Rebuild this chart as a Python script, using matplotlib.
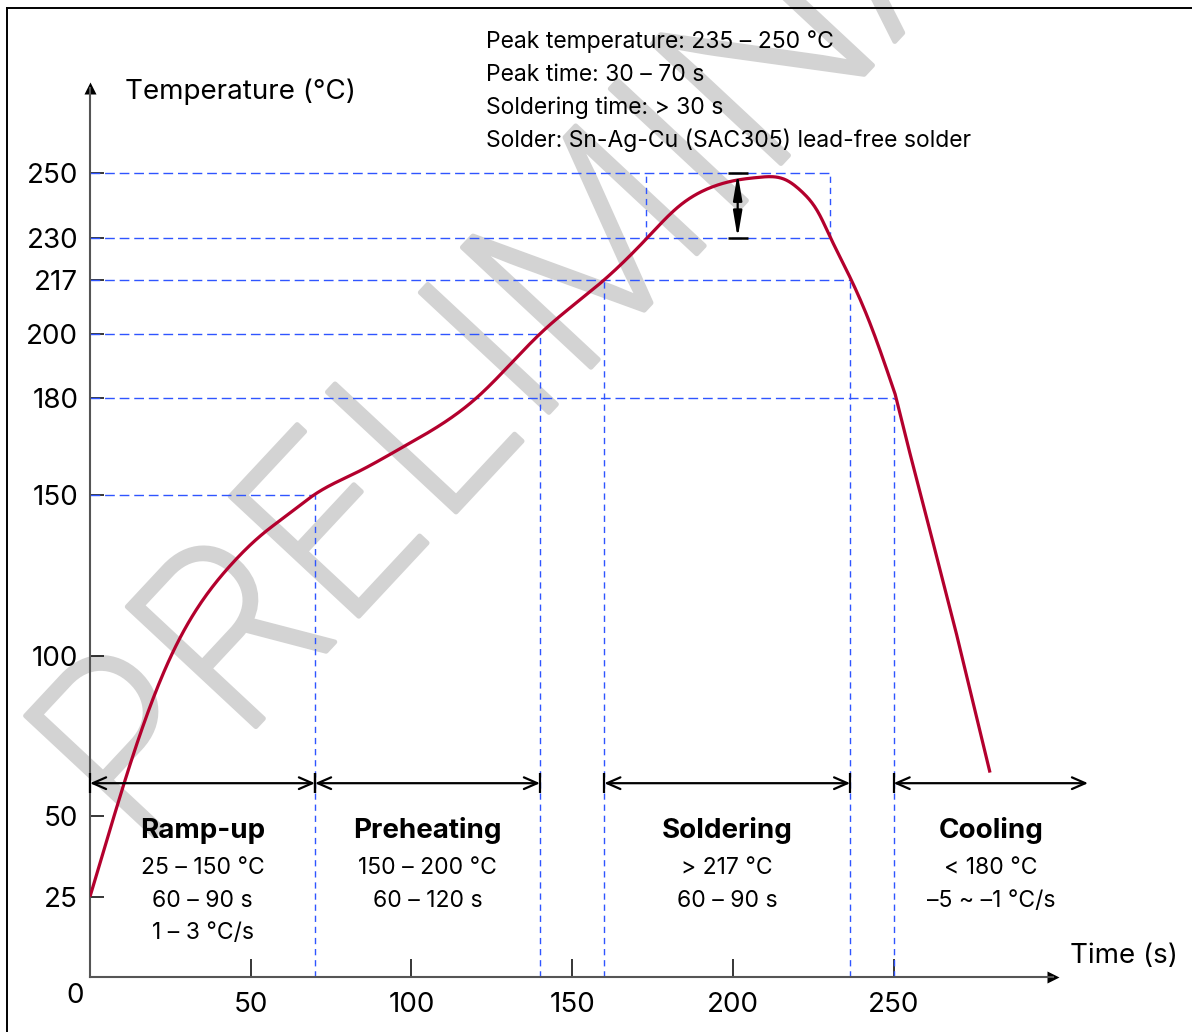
import numpy as np
import matplotlib
matplotlib.use("Agg")
import matplotlib.pyplot as plt
from matplotlib.lines import Line2D
from matplotlib.patches import ArrowStyle
from matplotlib.textpath import TextPath, TextToPath
from matplotlib.font_manager import FontProperties
import matplotlib.patheffects as pe

plt.rcParams['font.family'] = ['Inter', 'DejaVu Sans']

# ---------------- data ----------------
time_s = [0, 6.2, 10.9, 17.6, 24.9, 32.4, 43.0, 53.9, 62.0, 70.0, 83.0, 96.5, 120.6,
          140.2, 160.3, 173.4, 183.1, 193.8, 201.6, 208.1, 216.5, 221.5, 226.5, 230.3,
          236.4, 242.7, 250.5, 255.1, 262.4, 269.6, 280.0]
temp_c = [25, 45.8, 61.2, 81.2, 99.2, 113.2, 127.3, 138.0, 144.2, 150.2, 157.0, 164.4, 180.5,
          200.3, 217.2, 230.0, 239.7, 245.9, 248.0, 248.8, 248.0, 244.3, 238.0, 230.2,
          217.8, 203.3, 181.3, 162.9, 134.7, 106.6, 63.6]
cooling_start = 250.5   # the curve bends here into the straight cooling ramp

x_ticks = [50, 100, 150, 200, 250]
y_ticks = [25, 50, 100, 150, 180, 200, 217, 230, 250]

# horizontal guides: (temperature, t_end)
h_guides = [(250, 230.2), (230, 230.2), (217, 236.5), (200, 140), (180, 250), (150, 70)]
# vertical guides: (time, t_top, t_bottom)
v_guides = [(70, 150, 0), (140, 200, 0), (160, 217, 0), (236.5, 217, 0), (250, 180, 0),
            (173, 250, 230), (230.2, 250, 230)]

phase_names = ["Ramp-up", "Preheating", "Soldering", "Cooling"]
phase_start = [0, 70, 160, 250]
phase_end = [70, 140, 236.5, 310.5]
phase_lines = [["25 – 150 °C", "60 – 90 s", "1 – 3 °C/s"],
               ["150 – 200 °C", "60 – 120 s"],
               ["> 217 °C", "60 – 90 s"],
               ["< 180 °C", "–5 ~ –1 °C/s"]]
phase_arrow_temp = 60.3

peak_time = 201.5
peak_range = (230, 250)

notes = ["Peak temperature: 235 – 250 °C",
         "Peak time: 30 – 70 s",
         "Soldering time: > 30 s",
         "Solder: Sn-Ag-Cu (SAC305) lead-free solder"]

watermark = "PRELIMINARY"

# ---------------- figure ----------------
W, H = 1192, 1032
fig = plt.figure(figsize=(W / 100, H / 100), dpi=100)
ox, oy = 90, 977          # origin pixel
xend, ytop = 1053, 88
ax = fig.add_axes([ox / W, (H - oy) / H, (xend - ox) / W, (oy - ytop) / H])
ax.set_xlim(0, 299.6)
ax.set_ylim(0, 276.6)
ax.patch.set_alpha(0)

for s in ['top', 'right']:
    ax.spines[s].set_visible(False)
for s in ['left', 'bottom']:
    ax.spines[s].set_color('#555555')
    ax.spines[s].set_linewidth(1.5)

ax.set_xticks(x_ticks)
ax.set_yticks(y_ticks)
ax.tick_params(axis='x', direction='in', length=13, width=1.1, color='black',
               labelsize=20, pad=11)
ax.tick_params(axis='y', direction='in', length=10, width=1.1, color='black',
               labelsize=20, pad=8.5)

# axis arrowheads
ax.plot(1, 0, marker='>', ms=9, color='black', transform=ax.transAxes, clip_on=False, mec='none')
ax.plot(0, 1, marker='^', ms=9, color='black', transform=ax.transAxes, clip_on=False, mec='none')

blue = '#2f55ff'
for T, tend in h_guides:
    ax.plot([0, tend], [T, T], color=blue, lw=1.0, dashes=(7, 3.5), zorder=2)
for t, top, bot in v_guides:
    ax.plot([t, t], [bot, top], color=blue, lw=1.0, dashes=(4.5, 3.5), zorder=2)


# smooth line through the read points (natural cubic spline), straight cooling ramp
def natural_spline(x, y, xs):
    x = np.asarray(x, float)
    y = np.asarray(y, float)
    n = len(x)
    h = np.diff(x)
    A = np.zeros((n, n))
    b = np.zeros(n)
    A[0, 0] = A[-1, -1] = 1
    for i in range(1, n - 1):
        A[i, i - 1] = h[i - 1]
        A[i, i] = 2 * (h[i - 1] + h[i])
        A[i, i + 1] = h[i]
        b[i] = 6 * ((y[i + 1] - y[i]) / h[i] - (y[i] - y[i - 1]) / h[i - 1])
    M = np.linalg.solve(A, b)
    idx = np.clip(np.searchsorted(x, xs) - 1, 0, n - 2)
    x0, x1 = x[idx], x[idx + 1]
    hh = x1 - x0
    a = (x1 - xs) / hh
    c = (xs - x0) / hh
    return (a * y[idx] + c * y[idx + 1]
            + ((a ** 3 - a) * M[idx] + (c ** 3 - c) * M[idx + 1]) * hh ** 2 / 6)


ts = np.array(time_s)
Ts = np.array(temp_c)
k = int(np.where(ts == cooling_start)[0][0])
xs = np.linspace(ts[0], ts[k], 600)
ys = natural_spline(ts[:k + 1], Ts[:k + 1], xs)
cx = np.concatenate([xs, ts[k + 1:]])
cy = np.concatenate([ys, Ts[k + 1:]])
ax.plot(cx, cy, color='#b3002d', lw=2.3, zorder=4, solid_capstyle='butt',
        solid_joinstyle='round')

# phase arrows
for i, (a, b) in enumerate(zip(phase_start, phase_end)):
    ax.annotate('', xy=(b, phase_arrow_temp), xytext=(a, phase_arrow_temp),
                arrowprops=dict(arrowstyle=ArrowStyle('<->', head_length=0.8, head_width=0.35),
                                mutation_scale=12, color='black', lw=1.6,
                                shrinkA=0, shrinkB=0), annotation_clip=False, zorder=5)
    ends = [a, b] if i < 3 else [a]
    ax.plot(ends, [phase_arrow_temp] * len(ends), ls='none', marker='|', ms=15, mew=1.6,
            color='black', zorder=5, clip_on=False)

# peak arrow
ax.annotate('', xy=(peak_time, peak_range[1]), xytext=(peak_time, peak_range[0]),
            arrowprops=dict(arrowstyle=ArrowStyle('<|-|>', head_length=1.3, head_width=0.22),
                            mutation_scale=12, color='black', lw=1.6, shrinkA=0, shrinkB=0),
            zorder=5)
ax.plot([peak_time, peak_time], list(peak_range), ls='none', marker='_', ms=15, mew=1.8,
        color='black', zorder=5)

# phase labels
pitch = 10.1
for i, name in enumerate(phase_names):
    c = (phase_start[i] + phase_end[i]) / 2
    ax.text(c, 43.2, name, ha='center', va='baseline', fontsize=20, fontweight='bold',
            zorder=6)
    for j, line in enumerate(phase_lines[i]):
        ax.text(c, 32.0 - j * pitch, line, ha='center', va='baseline', fontsize=16.5, zorder=6)

# axis titles
ax.text(10.9, 273.2, "Temperature (°C)", ha='left', va='baseline', fontsize=20, clip_on=False)
ax.text(305, 4.4, "Time (s)", ha='left', va='baseline', fontsize=20, clip_on=False)
ax.text(-4.5, -6, "0", ha='center', va='center', fontsize=20, clip_on=False)

# notes
for j, line in enumerate(notes):
    ax.text(123.2, 289.0 - j * 10.27, line, ha='left', va='baseline', fontsize=16.5,
            clip_on=False, zorder=6)

# watermark (behind the axes): place so the corner of the "L" lands where it is in the original
wm_size = 174
wm_angle = 47
wm_color = '#d3d3d3'
fp = FontProperties(family='Inter', size=wm_size, weight='light')
w_pre, _, _ = TextToPath().get_text_width_height_descent("PRE", fp, ismath=False)
lsb_L = TextPath((0, 0), "L", size=wm_size, prop=fp).get_extents().x0
dist_px = (w_pre + lsb_L) * 100 / 72
L_corner = (456, H - 512)       # pixel position (from bottom-left)
th = np.radians(wm_angle)
anchor_x = L_corner[0] - dist_px * np.cos(th)
anchor_y = L_corner[1] - dist_px * np.sin(th)
fig.text(anchor_x / W, anchor_y / H, watermark, rotation=wm_angle, ha='left', va='baseline',
         rotation_mode='anchor', fontproperties=fp, color=wm_color, zorder=-1,
         path_effects=[pe.withStroke(linewidth=3.5, foreground=wm_color)])

# frame (top and left edges)
fig.add_artist(Line2D([7 / W, 7 / W], [0, 1 - 8 / H], color='black', lw=1.4))
fig.add_artist(Line2D([7 / W, 1], [1 - 8 / H, 1 - 8 / H], color='black', lw=1.4))

fig.savefig('out.png', dpi=100)
